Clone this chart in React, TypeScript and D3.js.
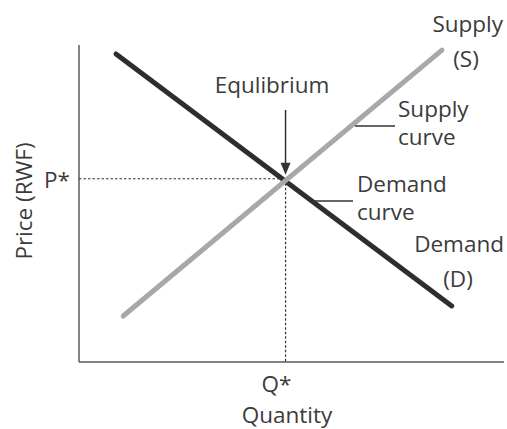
import * as d3 from 'd3'

// quantity / price (arbitrary 0-10 units)
const demandQ = [0.87, 8.77]
const demandP = [9.72, 1.77]
const supplyQ = [1.04, 8.54]
const supplyP = [1.45, 9.84]
const eqQ = 4.86
const eqP = 5.78

const W = 507
const H = 429
const margin = { top: 45, right: 3, bottom: 67, left: 79 }

const FONT = "'Open Sans', 'Noto Sans', sans-serif"
const TEXT = '#3b3b3b'

export default function App() {
  const x = d3.scaleLinear().domain([0, 10]).range([margin.left, W - margin.right])
  const y = d3.scaleLinear().domain([0, 10]).range([H - margin.bottom, margin.top])

  const line = d3.line<[number, number]>().x(d => x(d[0])).y(d => y(d[1]))
  const demand = line(demandQ.map((q, i) => [q, demandP[i]]))
  const supply = line(supplyQ.map((q, i) => [q, supplyP[i]]))

  const ex = x(eqQ)
  const ey = y(eqP)
  const x0 = x(0)
  const y0 = y(0)

  const txt = { fontFamily: FONT, fontSize: 22.5, fill: TEXT }

  return (
    <svg width={W} height={H} style={{ position: 'absolute', left: 0, top: 0, background: '#fff' }}>
      {/* axes */}
      <line x1={x0} y1={y(10)} x2={x0} y2={y0} stroke="#5a5a5a" strokeWidth={1.5} />
      <line x1={x0} y1={y0} x2={x(10)} y2={y0} stroke="#5a5a5a" strokeWidth={1.5} />

      {/* dotted guides */}
      <line x1={x0} y1={ey} x2={ex} y2={ey} stroke="#333" strokeWidth={1.2} strokeDasharray="2.5,2" />
      <line x1={ex} y1={ey} x2={ex} y2={y0} stroke="#333" strokeWidth={1.2} strokeDasharray="2.5,2" />

      {/* curves */}
      <path d={demand ?? ''} fill="none" stroke="#2e2e2e" strokeWidth={5} strokeLinecap="round" />
      <path d={supply ?? ''} fill="none" stroke="#a8a8a8" strokeWidth={5} strokeLinecap="round" />

      {/* equilibrium arrow */}
      <line x1={ex} y1={110} x2={ex} y2={ey - 12} stroke="#333" strokeWidth={1.5} />
      <path d={`M${ex - 5},${ey - 16}L${ex + 5},${ey - 16}L${ex},${ey - 4}Z`} fill="#333" />
      <text x={272} y={93} textAnchor="middle" {...txt}>Equlibrium</text>

      {/* leader lines */}
      <line x1={355} y1={126} x2={395} y2={126} stroke="#333" strokeWidth={1.5} />
      <line x1={315} y1={201} x2={353} y2={201} stroke="#333" strokeWidth={1.5} />

      <text x={503} y={32} textAnchor="end" {...txt}>Supply</text>
      <text x={466} y={67} textAnchor="middle" {...txt}>(S)</text>
      <text x={398} y={117} {...txt}>Supply</text>
      <text x={398} y={145} {...txt}>curve</text>
      <text x={357} y={192} {...txt}>Demand</text>
      <text x={357} y={220} {...txt}>curve</text>
      <text x={504} y={252} textAnchor="end" {...txt}>Demand</text>
      <text x={458} y={287} textAnchor="middle" {...txt}>(D)</text>

      {/* axis labels */}
      <text x={70} y={188} textAnchor="end" {...txt}>P*</text>
      <text x={ex - 9} y={392} textAnchor="middle" {...txt}>Q*</text>
      <text x={287} y={423} textAnchor="middle" {...txt}>Quantity</text>
      <text transform="translate(32,201) rotate(-90)" textAnchor="middle" {...txt}>Price (RWF)</text>
    </svg>
  )
}
